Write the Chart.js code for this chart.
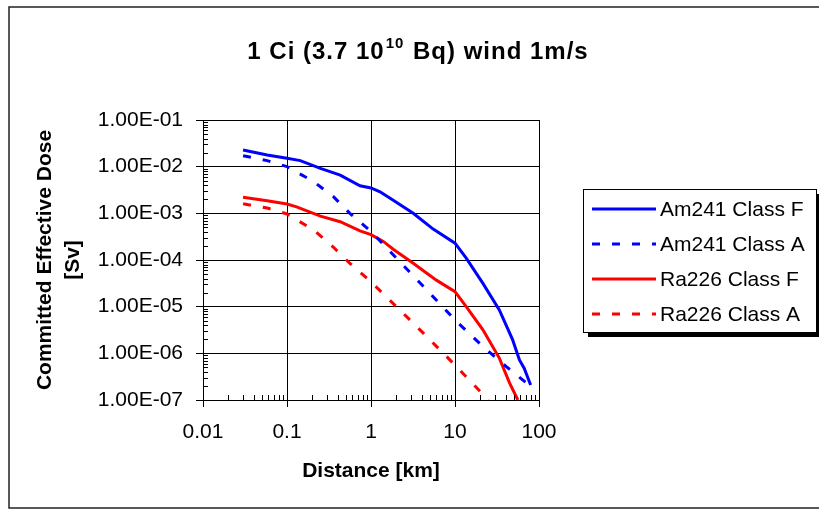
<!DOCTYPE html>
<html>
<head>
<meta charset="utf-8">
<script src="https://cdn.jsdelivr.net/npm/chart.js@4.4.1/dist/chart.umd.min.js"></script>
<style>
  body { margin: 0; background: #fff; }
  canvas { display: block; }
</style>
</head>
<body>
<canvas id="chart" width="819" height="510"></canvas>
<script>
// distance [km] / dose [Sv]
const am241F_x = [0.03, 0.058, 0.1, 0.144, 0.25, 0.43, 0.74, 1, 1.28, 1.84, 3.18, 5.5, 10, 13.6, 21.5, 33.7, 48.6, 58.5, 66.6, 79.5];
const am241F_y = [0.0228, 0.0178, 0.0151, 0.0135, 0.0092, 0.0066, 0.0039, 0.0035, 0.0029, 0.0019, 0.001, 4.6e-4, 2.3e-4, 1.1e-4, 3.16e-5, 8.5e-6, 1.94e-6, 7.2e-7, 4.8e-7, 2.1e-7];

const am241A_x = [0.03, 0.058, 0.1, 0.207, 0.355, 0.56, 1, 2.2, 4.6, 10, 21.5, 40.8, 76];
const am241A_y = [0.0172, 0.0135, 0.01, 0.0048, 0.0023, 0.001, 4.1e-4, 9.2e-5, 2.3e-5, 5.2e-6, 1.4e-6, 5.2e-7, 2.1e-7];

const ra226F_x = [0.03, 0.058, 0.1, 0.13, 0.25, 0.43, 0.74, 1, 1.4, 1.84, 3.18, 6.0, 10, 13.6, 21.5, 33.7, 44.7, 56];
const ra226F_y = [0.0022, 0.00187, 0.00158, 0.00138, 8.7e-4, 6.6e-4, 4.2e-4, 3.5e-4, 2.5e-4, 1.7e-4, 8.5e-5, 3.7e-5, 2.1e-5, 1e-5, 3.2e-6, 7.9e-7, 2.3e-7, 1e-7];

const ra226A_x = [0.03, 0.058, 0.1, 0.207, 0.355, 0.56, 1, 2.2, 4.6, 10, 25];
const ra226A_y = [0.0016, 0.0013, 9.7e-4, 4.4e-4, 1.9e-4, 8.5e-5, 3.4e-5, 8.5e-6, 2.3e-6, 5.6e-7, 1e-7];

const xTicks = [0.01, 0.1, 1, 10, 100];
const xTickLabels = ['0.01', '0.1', '1', '10', '100'];
const yTicks = [1e-7, 1e-6, 1e-5, 1e-4, 1e-3, 1e-2, 1e-1];
const yTickLabels = ['1.00E-07', '1.00E-06', '1.00E-05', '1.00E-04', '1.00E-03', '1.00E-02', '1.00E-01'];

const FONT = 'Liberation Sans, Arial, sans-serif';

function pts(xs, ys) {
  return xs.map((x, i) => ({ x: x, y: ys[i] }));
}

function tickLabel(list, labels, v) {
  for (let i = 0; i < list.length; i++) {
    if (Math.abs(Math.log10(list[i]) - Math.log10(v)) < 1e-6) return labels[i];
  }
  return '';
}

// title with the superscript, frame round the whole thing, small inner ticks, legend box
const extras = {
  id: 'extras',
  beforeDraw(chart) {
    const ctx = chart.ctx;
    ctx.save();
    ctx.fillStyle = '#fff';
    ctx.fillRect(0, 0, chart.width, chart.height);
    ctx.strokeStyle = '#222';
    ctx.lineWidth = 1.5;
    ctx.strokeRect(9, 7, 900, 501);
    ctx.restore();
  },
  afterDraw(chart) {
    const ctx = chart.ctx;
    const xs = chart.scales.x, ys = chart.scales.y;
    const area = chart.chartArea;
    ctx.save();

    // minor ticks, inside the plot
    ctx.strokeStyle = '#000';
    ctx.lineWidth = 1;
    ctx.beginPath();
    for (let d = 0; d < xTicks.length - 1; d++) {
      for (let k = 2; k <= 9; k++) {
        const px = Math.round(xs.getPixelForValue(xTicks[d] * k)) + 0.5;
        ctx.moveTo(px, area.bottom);
        ctx.lineTo(px, area.bottom - 5);
      }
    }
    for (let d = 0; d < yTicks.length - 1; d++) {
      for (let k = 2; k <= 9; k++) {
        const py = Math.round(ys.getPixelForValue(yTicks[d] * k)) + 0.5;
        ctx.moveTo(area.left, py);
        ctx.lineTo(area.left + 5, py);
      }
    }
    ctx.stroke();

    // title
    const p1 = '1 Ci (3.7 10', sup = '10', p2 = ' Bq) wind 1m/s';
    const big = 'bold 24px ' + FONT, small = 'bold 15px ' + FONT;
    ctx.fillStyle = '#000';
    ctx.textBaseline = 'alphabetic';
    ctx.textAlign = 'left';
    ctx.letterSpacing = '1px';
    ctx.font = big;
    const w1 = ctx.measureText(p1).width, w3 = ctx.measureText(p2).width;
    ctx.font = small;
    const w2 = ctx.measureText(sup).width + 2;
    let tx = 418 - (w1 + w2 + w3) / 2;
    ctx.font = big;
    ctx.fillText(p1, tx, 59);
    ctx.font = small;
    ctx.fillText(sup, tx + w1 + 1, 48);
    ctx.font = big;
    ctx.fillText(p2, tx + w1 + w2, 59);
    ctx.letterSpacing = '0px';

    // legend
    const lx = 583, ly = 189, lw = 233, lh = 143;
    ctx.fillStyle = '#000';
    ctx.fillRect(lx + 5, ly + 5, lw, lh);
    ctx.fillStyle = '#fff';
    ctx.fillRect(lx, ly, lw, lh);
    ctx.strokeStyle = '#000';
    ctx.lineWidth = 1;
    ctx.strokeRect(lx + 0.5, ly + 0.5, lw, lh);
    ctx.font = '21px ' + FONT;
    ctx.textBaseline = 'middle';
    chart.data.datasets.forEach((ds, i) => {
      const y = 209 + i * 35;
      ctx.strokeStyle = ds.borderColor;
      ctx.lineWidth = 3;
      ctx.setLineDash(ds.borderDash || []);
      ctx.beginPath();
      ctx.moveTo(592, y);
      ctx.lineTo(656, y);
      ctx.stroke();
      ctx.setLineDash([]);
      ctx.fillStyle = '#000';
      ctx.fillText(ds.label, 660, y + 1);
    });
    ctx.restore();
  }
};

function mkSet(label, xs, ys, color, dash) {
  return {
    label: label,
    data: pts(xs, ys),
    borderColor: color,
    backgroundColor: color,
    borderWidth: 3,
    borderDash: dash,
    pointRadius: 0,
    tension: 0,
    fill: false
  };
}

new Chart(document.getElementById('chart'), {
  type: 'line',
  data: {
    datasets: [
      mkSet('Am241 Class F', am241F_x, am241F_y, '#0000ff', []),
      mkSet('Am241 Class A', am241A_x, am241A_y, '#0000ff', [8, 12]),
      mkSet('Ra226 Class F', ra226F_x, ra226F_y, '#ff0000', []),
      mkSet('Ra226 Class A', ra226A_x, ra226A_y, '#ff0000', [8, 12])
    ]
  },
  options: {
    responsive: false,
    animation: false,
    layout: { padding: { left: 9, top: 120, right: 280, bottom: 0 } },
    plugins: {
      legend: { display: false },
      title: { display: false },
      tooltip: { enabled: false }
    },
    scales: {
      x: {
        type: 'logarithmic',
        min: 0.01,
        max: 100,
        afterBuildTicks: s => { s.ticks = xTicks.map(v => ({ value: v })); },
        afterFit: s => { s.height = 110; },
        grid: { color: '#000', lineWidth: 1, tickLength: 7, tickColor: '#000' },
        border: { display: true, color: '#000', width: 1 },
        ticks: {
          autoSkip: false,
          maxRotation: 0,
          padding: 13,
          color: '#000',
          font: { family: FONT, size: 21 },
          callback: v => tickLabel(xTicks, xTickLabels, v)
        },
        title: {
          display: true,
          text: 'Distance [km]',
          color: '#000',
          font: { family: FONT, size: 21, weight: 'bold' },
          padding: { top: 0, bottom: 26 }
        }
      },
      y: {
        type: 'logarithmic',
        min: 1e-7,
        max: 1e-1,
        afterBuildTicks: s => { s.ticks = yTicks.map(v => ({ value: v })); },
        afterFit: s => { s.width = 194; },
        grid: { color: '#000', lineWidth: 1, tickLength: 7, tickColor: '#000' },
        border: { display: true, color: '#000', width: 1 },
        ticks: {
          autoSkip: false,
          padding: 13,
          color: '#000',
          font: { family: FONT, size: 21 },
          callback: v => tickLabel(yTicks, yTickLabels, v)
        },
        title: {
          display: true,
          text: ['Committed Effective Dose', '[Sv]'],
          color: '#000',
          font: { family: FONT, size: 21, weight: 'bold', lineHeight: 1.33 },
          padding: { top: 22, bottom: 0 }
        }
      }
    }
  },
  plugins: [extras]
});
</script>
</body>
</html>
